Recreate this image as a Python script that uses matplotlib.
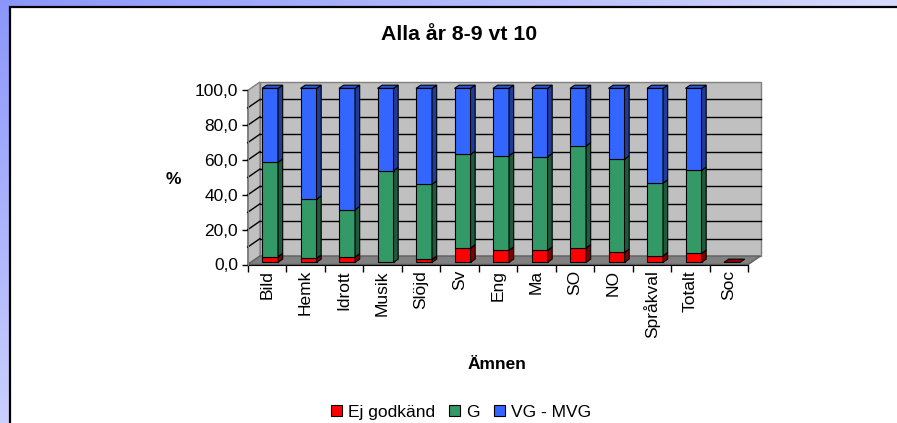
import numpy as np
import matplotlib
matplotlib.use('Agg')
import matplotlib.pyplot as plt
from matplotlib.patches import Polygon, Rectangle

plt.rcParams['font.family'] = ['Liberation Sans', 'DejaVu Sans']

# Data (percent per subject)
categories = ['Bild', 'Hemk', 'Idrott', 'Musik', 'Slöjd', 'Sv', 'Eng', 'Ma',
              'SO', 'NO', 'Språkval', 'Totalt', 'Soc']
ej_godkand = [3.3, 2.4, 3.1, 0.0, 1.8, 8.3, 7.0, 7.0, 8.3, 5.8, 3.7, 5.2, 0.0]
g_values = [54.2, 33.9, 27.2, 52.7, 43.1, 53.8, 54.3, 53.7, 58.6, 53.6, 41.9, 47.7, 0.0]
vg_mvg = [42.5, 63.7, 69.7, 47.3, 55.1, 37.9, 38.7, 39.3, 33.1, 40.6, 54.4, 47.1, 0.0]
series_names = ['Ej godkänd', 'G', 'VG - MVG']
yticks = [0, 20, 40, 60, 80, 100]

# colours: front, side, top
face_cols = ['#FF0000', '#339966', '#3366FF']
side_cols = ['#800000', '#1E5A3C', '#1F3C99']
top_cols = ['#990000', '#287A52', '#2A55D0']

W, H = 897, 423
fig = plt.figure(figsize=(W / 100, H / 100), dpi=100)

# bluish gradient background
bg = fig.add_axes([0, 0, 1, 1])
gx, gy = np.meshgrid(np.linspace(0, 1, 300), np.linspace(0, 1, 150))
t = np.clip(0.9 * gx + 0.75 * gy, 0, 1)[..., None]
c0 = np.array([138, 150, 250]) / 255
c1 = np.array([224, 226, 255]) / 255
bg.imshow(c0 + (c1 - c0) * t, aspect='auto', extent=[0, 1, 1, 0])
bg.set_xlim(0, 1)
bg.set_ylim(1, 0)
bg.axis('off')
# white chart panel, open to the right and bottom
bg.add_patch(Rectangle((10 / W, -0.5), 1.0, 1.5 - 7 / H, facecolor='white',
                       edgecolor='black', linewidth=1.6, transform=bg.transAxes, clip_on=False))

# main chart axes = front plane of the 3d box
x0, x1 = 247.7, 748.2
y_top, y_bot = 90.5, 264.5
ax = fig.add_axes([x0 / W, (H - y_bot) / H, (x1 - x0) / W, (y_bot - y_top) / H])
n = len(categories)
ax.set_xlim(0, n)
ax.set_ylim(0, 100)
ax.patch.set_visible(False)

px_x = (x1 - x0) / n
px_y = (y_bot - y_top) / 100
DX = 12.3 / px_x
DY = 8.5 / px_y

# walls and floor
ax.add_patch(Polygon([(DX, DY), (n + DX, DY), (n + DX, 100 + DY), (DX, 100 + DY)],
                     closed=True, facecolor='#C0C0C0', edgecolor='#808080', lw=1, clip_on=False, zorder=1))
ax.add_patch(Polygon([(0, 0), (DX, DY), (DX, 100 + DY), (0, 100)],
                     closed=True, facecolor='#C0C0C0', edgecolor='#808080', lw=1, clip_on=False, zorder=1))
ax.add_patch(Polygon([(0, 0), (n, 0), (n + DX, DY), (DX, DY)],
                     closed=True, facecolor='#808080', edgecolor='#606060', lw=1, clip_on=False, zorder=1))
for v in range(10, 100, 10):
    ax.plot([DX, n + DX], [v + DY, v + DY], color='black', lw=1, clip_on=False, zorder=2)
    ax.plot([0, DX], [v, v + DY], color='black', lw=1, clip_on=False, zorder=2)

# 3d stacked bars
w = 16 / px_x
z0, dz = 0.25, 0.38
stack = [ej_godkand, g_values, vg_mvg]
for i in range(n):
    xl = i + 0.5 - w / 2 + z0 * DX
    bottom = 0.0
    top_idx = 0
    for k in range(3):
        val = stack[k][i]
        if val <= 0:
            continue
        b = bottom + z0 * DY
        tp = bottom + val + z0 * DY
        ax.add_patch(Polygon([(xl, b), (xl + w, b), (xl + w, tp), (xl, tp)], closed=True,
                             facecolor=face_cols[k], edgecolor='black', lw=0.8, clip_on=False, zorder=5))
        ax.add_patch(Polygon([(xl + w, b), (xl + w + dz * DX, b + dz * DY),
                              (xl + w + dz * DX, tp + dz * DY), (xl + w, tp)], closed=True,
                             facecolor=side_cols[k], edgecolor='black', lw=0.8, clip_on=False, zorder=5))
        bottom += val
        top_idx = k
    tp = bottom + z0 * DY
    ax.add_patch(Polygon([(xl, tp), (xl + w, tp), (xl + w + dz * DX, tp + dz * DY),
                          (xl + dz * DX, tp + dz * DY)], closed=True,
                         facecolor=top_cols[top_idx], edgecolor='black', lw=0.8, clip_on=False, zorder=6))

# axes decoration
for s in ['top', 'right']:
    ax.spines[s].set_visible(False)
ax.spines['left'].set_color('#808080')
ax.spines['bottom'].set_color('black')
ax.spines['left'].set_zorder(3)
ax.set_yticks(yticks)
ax.set_yticklabels([f'{v:.1f}'.replace('.', ',') for v in yticks], fontsize=12.5)
ax.tick_params(axis='y', direction='out', length=4, width=1, pad=3, color='black')
ax.set_xticks(np.arange(n) + 0.5)
ax.set_xticklabels(categories, rotation=90, fontsize=12.5, va='top')
ax.set_xticks(np.arange(n + 1), minor=True)
ax.tick_params(axis='x', which='major', length=0, pad=4)
ax.tick_params(axis='x', which='minor', length=5, width=1, color='black')

fig.text(459 / W, 1 - 35 / H, 'Alla år 8-9 vt 10', ha='center', va='center',
         fontsize=15.3, fontweight='bold')
fig.text(173 / W, 1 - 180 / H, '%', ha='center', va='center', fontsize=12.5, fontweight='bold')
fig.text(497 / W, 1 - 364 / H, 'Ämnen', ha='center', va='center', fontsize=12.5, fontweight='bold')

handles = [Rectangle((0, 0), 1, 1, facecolor=c, edgecolor='black', lw=0.8) for c in face_cols]
fig.legend(handles, series_names, loc='center', bbox_to_anchor=(461 / W, 1 - 412 / H), ncol=3,
           frameon=False, fontsize=12.5, handlelength=0.65, handleheight=0.65,
           handletextpad=0.35, columnspacing=0.8, borderaxespad=0, borderpad=0)

fig.savefig('out.png', dpi=100)
